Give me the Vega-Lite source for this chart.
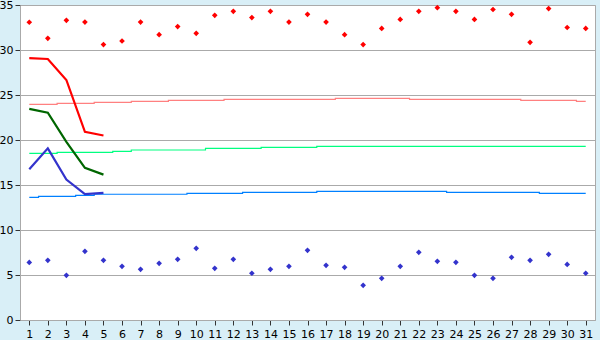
{
  "$schema": "https://vega.github.io/schema/vega-lite/v6.json",
  "autosize": "none",
  "width": 575,
  "height": 315,
  "padding": {"left": 20, "top": 5, "right": 5, "bottom": 20},
  "background": "#d9eff7",
  "view": {"fill": "white", "stroke": "#aaaaaa", "strokeWidth": 1},
  "config": {
    "font": "DejaVu Sans",
    "axis": {"labelFont": "DejaVu Sans", "labelFontSize": 11, "labelColor": "black", "tickColor": "#333333", "domainColor": "#aaaaaa", "gridColor": "#aaaaaa", "tickSize": 5, "title": null}
  },
  "datasets": {
    "norm": [
      {"d":1,"s":"nhi","v":23.96},{"d":2,"s":"nhi","v":23.96},{"d":3,"s":"nhi","v":24.07},{"d":4,"s":"nhi","v":24.07},{"d":5,"s":"nhi","v":24.19},{"d":6,"s":"nhi","v":24.19},{"d":7,"s":"nhi","v":24.3},{"d":8,"s":"nhi","v":24.3},{"d":9,"s":"nhi","v":24.41},{"d":10,"s":"nhi","v":24.41},{"d":11,"s":"nhi","v":24.41},{"d":12,"s":"nhi","v":24.52},{"d":13,"s":"nhi","v":24.52},{"d":14,"s":"nhi","v":24.52},{"d":15,"s":"nhi","v":24.52},{"d":16,"s":"nhi","v":24.52},{"d":17,"s":"nhi","v":24.52},{"d":18,"s":"nhi","v":24.63},{"d":19,"s":"nhi","v":24.63},{"d":20,"s":"nhi","v":24.63},{"d":21,"s":"nhi","v":24.63},{"d":22,"s":"nhi","v":24.52},{"d":23,"s":"nhi","v":24.52},{"d":24,"s":"nhi","v":24.52},{"d":25,"s":"nhi","v":24.52},{"d":26,"s":"nhi","v":24.52},{"d":27,"s":"nhi","v":24.52},{"d":28,"s":"nhi","v":24.41},{"d":29,"s":"nhi","v":24.41},{"d":30,"s":"nhi","v":24.41},{"d":31,"s":"nhi","v":24.3},
      {"d":1,"s":"nmid","v":18.52},{"d":2,"s":"nmid","v":18.52},{"d":3,"s":"nmid","v":18.63},{"d":4,"s":"nmid","v":18.63},{"d":5,"s":"nmid","v":18.63},{"d":6,"s":"nmid","v":18.74},{"d":7,"s":"nmid","v":18.89},{"d":8,"s":"nmid","v":18.89},{"d":9,"s":"nmid","v":18.89},{"d":10,"s":"nmid","v":18.89},{"d":11,"s":"nmid","v":19.08},{"d":12,"s":"nmid","v":19.08},{"d":13,"s":"nmid","v":19.08},{"d":14,"s":"nmid","v":19.19},{"d":15,"s":"nmid","v":19.19},{"d":16,"s":"nmid","v":19.19},{"d":17,"s":"nmid","v":19.3},{"d":18,"s":"nmid","v":19.3},{"d":19,"s":"nmid","v":19.3},{"d":20,"s":"nmid","v":19.3},{"d":21,"s":"nmid","v":19.3},{"d":22,"s":"nmid","v":19.3},{"d":23,"s":"nmid","v":19.3},{"d":24,"s":"nmid","v":19.3},{"d":25,"s":"nmid","v":19.3},{"d":26,"s":"nmid","v":19.3},{"d":27,"s":"nmid","v":19.3},{"d":28,"s":"nmid","v":19.3},{"d":29,"s":"nmid","v":19.3},{"d":30,"s":"nmid","v":19.3},{"d":31,"s":"nmid","v":19.3},
      {"d":1,"s":"nlo","v":13.63},{"d":2,"s":"nlo","v":13.74},{"d":3,"s":"nlo","v":13.74},{"d":4,"s":"nlo","v":13.85},{"d":5,"s":"nlo","v":13.97},{"d":6,"s":"nlo","v":13.97},{"d":7,"s":"nlo","v":13.97},{"d":8,"s":"nlo","v":13.97},{"d":9,"s":"nlo","v":13.97},{"d":10,"s":"nlo","v":14.07},{"d":11,"s":"nlo","v":14.07},{"d":12,"s":"nlo","v":14.07},{"d":13,"s":"nlo","v":14.19},{"d":14,"s":"nlo","v":14.19},{"d":15,"s":"nlo","v":14.19},{"d":16,"s":"nlo","v":14.19},{"d":17,"s":"nlo","v":14.3},{"d":18,"s":"nlo","v":14.3},{"d":19,"s":"nlo","v":14.3},{"d":20,"s":"nlo","v":14.3},{"d":21,"s":"nlo","v":14.3},{"d":22,"s":"nlo","v":14.3},{"d":23,"s":"nlo","v":14.3},{"d":24,"s":"nlo","v":14.19},{"d":25,"s":"nlo","v":14.19},{"d":26,"s":"nlo","v":14.19},{"d":27,"s":"nlo","v":14.19},{"d":28,"s":"nlo","v":14.19},{"d":29,"s":"nlo","v":14.07},{"d":30,"s":"nlo","v":14.07},{"d":31,"s":"nlo","v":14.07}
    ],
    "cur": [
      {"d":1,"s":"hi","v":29.1},{"d":2,"s":"hi","v":29.0},{"d":3,"s":"hi","v":26.67},{"d":4,"s":"hi","v":20.9},{"d":5,"s":"hi","v":20.5},
      {"d":1,"s":"mid","v":23.45},{"d":2,"s":"mid","v":23.03},{"d":3,"s":"mid","v":19.8},{"d":4,"s":"mid","v":16.9},{"d":5,"s":"mid","v":16.15},
      {"d":1,"s":"lo","v":16.74},{"d":2,"s":"lo","v":19.07},{"d":3,"s":"lo","v":15.6},{"d":4,"s":"lo","v":13.99},{"d":5,"s":"lo","v":14.13}
    ],
    "ext": [
      {"d":1,"s":"max","v":33.08},{"d":2,"s":"max","v":31.3},{"d":3,"s":"max","v":33.3},{"d":4,"s":"max","v":33.1},{"d":5,"s":"max","v":30.6},{"d":6,"s":"max","v":31.0},{"d":7,"s":"max","v":33.1},{"d":8,"s":"max","v":31.7},{"d":9,"s":"max","v":32.6},{"d":10,"s":"max","v":31.85},{"d":11,"s":"max","v":33.85},{"d":12,"s":"max","v":34.3},{"d":13,"s":"max","v":33.6},{"d":14,"s":"max","v":34.3},{"d":15,"s":"max","v":33.1},{"d":16,"s":"max","v":33.96},{"d":17,"s":"max","v":33.1},{"d":18,"s":"max","v":31.7},{"d":19,"s":"max","v":30.6},{"d":20,"s":"max","v":32.4},{"d":21,"s":"max","v":33.4},{"d":22,"s":"max","v":34.3},{"d":23,"s":"max","v":34.7},{"d":24,"s":"max","v":34.3},{"d":25,"s":"max","v":33.4},{"d":26,"s":"max","v":34.5},{"d":27,"s":"max","v":33.96},{"d":28,"s":"max","v":30.85},{"d":29,"s":"max","v":34.6},{"d":30,"s":"max","v":32.5},{"d":31,"s":"max","v":32.4},
      {"d":1,"s":"min","v":6.4},{"d":2,"s":"min","v":6.63},{"d":3,"s":"min","v":4.96},{"d":4,"s":"min","v":7.63},{"d":5,"s":"min","v":6.63},{"d":6,"s":"min","v":5.96},{"d":7,"s":"min","v":5.63},{"d":8,"s":"min","v":6.3},{"d":9,"s":"min","v":6.74},{"d":10,"s":"min","v":7.96},{"d":11,"s":"min","v":5.74},{"d":12,"s":"min","v":6.74},{"d":13,"s":"min","v":5.19},{"d":14,"s":"min","v":5.63},{"d":15,"s":"min","v":5.96},{"d":16,"s":"min","v":7.74},{"d":17,"s":"min","v":6.07},{"d":18,"s":"min","v":5.85},{"d":19,"s":"min","v":3.85},{"d":20,"s":"min","v":4.63},{"d":21,"s":"min","v":5.96},{"d":22,"s":"min","v":7.52},{"d":23,"s":"min","v":6.52},{"d":24,"s":"min","v":6.41},{"d":25,"s":"min","v":4.96},{"d":26,"s":"min","v":4.63},{"d":27,"s":"min","v":6.96},{"d":28,"s":"min","v":6.63},{"d":29,"s":"min","v":7.3},{"d":30,"s":"min","v":6.18},{"d":31,"s":"min","v":5.19}
    ]
  },
  "encoding": {
    "x": {"field": "d", "type": "quantitative", "scale": {"domain": [0.5, 31.5], "nice": false, "zero": false},
      "axis": {"values": [1,2,3,4,5,6,7,8,9,10,11,12,13,14,15,16,17,18,19,20,21,22,23,24,25,26,27,28,29,30,31], "grid": false, "labelPadding": 3, "labelFlush": false}},
    "y": {"field": "v", "type": "quantitative", "scale": {"domain": [0, 35], "nice": false},
      "axis": {"values": [0,5,10,15,20,25,30,35], "grid": true, "labelPadding": 2}},
    "color": {"field": "s", "type": "nominal", "legend": null,
      "scale": {"domain": ["nhi","nmid","nlo","hi","mid","lo","max","min"], "range": ["#ff8080","#00ff80","#0080ff","#ff0000","#006600","#3333cc","#ff0000","#3333cc"]}}
  },
  "layer": [
    {"data": {"name": "norm"}, "mark": {"type": "line", "interpolate": "step", "strokeWidth": 1.2}},
    {"data": {"name": "cur"}, "mark": {"type": "line", "strokeWidth": 2.2}},
    {"data": {"name": "ext"}, "mark": {"type": "point", "shape": "diamond", "filled": true, "size": 32, "opacity": 1}}
  ]
}
